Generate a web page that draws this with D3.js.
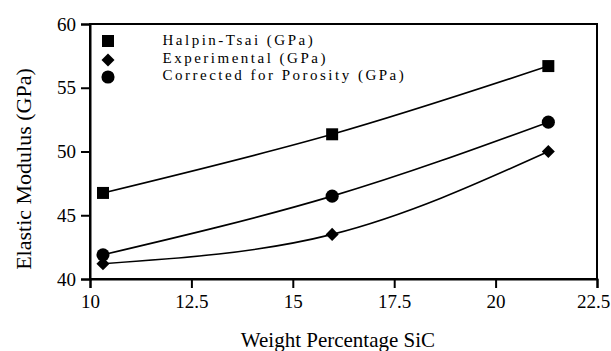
<!DOCTYPE html>
<html><head><meta charset="utf-8">
<script src="https://cdn.jsdelivr.net/npm/d3@7"></script>
<style>body{margin:0;background:#fff}svg{display:block}</style>
</head><body>
<svg id="c" width="611" height="351"></svg>
<script>
const xValues = [10.32, 15.97, 21.3];
const halpinTsai = [46.75, 51.35, 56.7];
const experimental = [41.2, 43.5, 50.0];
const corrected = [41.9, 46.5, 52.3];
const seriesNames = ["Halpin-Tsai (GPa)", "Experimental (GPa)", "Corrected for Porosity (GPa)"];
const xTicks = [10, 12.5, 15, 17.5, 20, 22.5];
const xTickLabels = ["10", "12.5", "15", "17.5", "20", "22.5"];
const yTicks = [40, 45, 50, 55, 60];

const FONT = '"Liberation Serif", "Times New Roman", serif';
const svg = d3.select("#c");
const L = 90, R = 597, T = 24, B = 279;
const x = d3.scaleLinear().domain([10, 22.5]).range([L, R]);
const y = d3.scaleLinear().domain([40, 60]).range([B, T]);

svg.append("rect").attr("x", L).attr("y", T).attr("width", R - L).attr("height", B - T)
  .attr("fill", "none").attr("stroke", "#000").attr("stroke-width", 2);

const xa = svg.append("g").attr("transform", `translate(0,${B})`)
  .call(d3.axisBottom(x).tickValues(xTicks).tickFormat((d, i) => xTickLabels[i]).tickSize(9).tickPadding(7));
const ya = svg.append("g").attr("transform", `translate(${L},0)`)
  .call(d3.axisLeft(y).tickValues(yTicks).tickSize(9).tickPadding(5));
[xa, ya].forEach(a => {
  a.attr("font-family", FONT).attr("font-size", 19);
  a.select(".domain").attr("stroke-width", 2);
  a.selectAll(".tick line").attr("stroke-width", 2);
  a.selectAll("text").attr("font-family", FONT).attr("font-size", 19).attr("fill", "#000");
});
// keep the last x label inside the window
xa.selectAll(".tick").filter(d => d === 22.5).select("text").attr("dx", -4);

const series = [halpinTsai, experimental, corrected];
const sym = [
  d3.symbol().type(d3.symbolSquare).size(144)(),
  d3.symbol().type(d3.symbolSquare).size(85)(),
  d3.symbol().type(d3.symbolCircle).size(135)()
];
const rot = [0, 45, 0];
const line = d3.line().x((d, i) => x(xValues[i])).y(d => y(d)).curve(d3.curveNatural);

series.forEach((s, k) => {
  svg.append("path").attr("d", line(s)).attr("fill", "none").attr("stroke", "#000").attr("stroke-width", 1.6);
  s.forEach((v, i) => {
    svg.append("path").attr("d", sym[k])
      .attr("transform", `translate(${x(xValues[i])},${y(v)}) rotate(${rot[k]})`).attr("fill", "#000");
  });
});

const legY = [41, 60, 77];
const legBase = [45.3, 62.5, 80.3];
seriesNames.forEach((n, k) => {
  svg.append("path").attr("d", sym[k])
    .attr("transform", `translate(108,${legY[k]}) rotate(${rot[k]})`).attr("fill", "#000");
  svg.append("text").attr("x", 162.5).attr("y", legBase[k])
    .attr("font-family", FONT).attr("font-size", 15).attr("letter-spacing", 2.5).text(n);
});

svg.append("text").attr("x", 338).attr("y", 347).attr("text-anchor", "middle")
  .attr("font-family", FONT).attr("font-size", 21).text("Weight Percentage SiC");
svg.append("text").attr("transform", `translate(31,169) rotate(-90)`).attr("text-anchor", "middle")
  .attr("font-family", FONT).attr("font-size", 22).text("Elastic Modulus (GPa)");
</script>
</body></html>
